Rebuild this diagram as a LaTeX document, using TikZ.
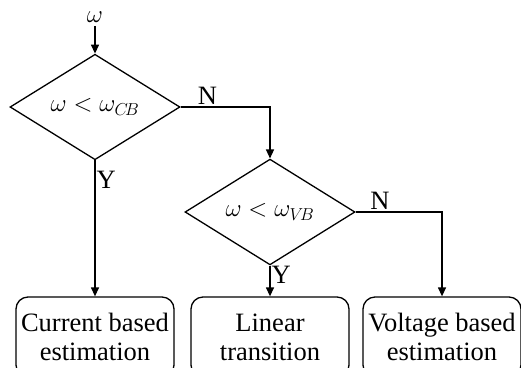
\documentclass[tikz,border=0pt]{standalone}
\usepackage{fontspec}
\setmainfont{Liberation Serif}
\usetikzlibrary{shapes.geometric,arrows.meta}
\begin{document}
\begin{tikzpicture}[x=1pt,y=-1pt,
  every node/.style={font=\fontsize{26.5}{29}\selectfont},
  arr/.style={line width=1.3pt,-{Triangle[length=9pt,width=8pt]}},
  dec/.style={draw,line width=1.3pt,diamond,inner sep=0pt,minimum width=170pt,minimum height=100pt},
  outbox/.style={draw,line width=1.3pt,rounded corners=12pt,minimum width=158pt,minimum height=80pt,align=center,inner sep=0pt}]
\useasboundingbox (0,0) rectangle (521,367);
\clip (0,0) rectangle (521,367);
\node (w) at (95,17) {$\omega$};
\node[dec] (d1) at (95,107) {$\omega<\omega_{C\!B}$};
\node[dec] (d2) at (270,212) {$\omega<\omega_{V\!B}$};
\node[outbox] (b1) at (95,337) {Current based\\estimation};
\node[outbox] (b2) at (270,337) {Linear\\transition};
\node[outbox] (b3) at (442,337) {Voltage based\\estimation};
\draw[arr] (w) -- (d1.north);
\draw[arr] (d1.east) -| node[pos=0.15,above,inner sep=2pt] (n1) {N} (d2.north);
\draw[arr] (d1.south) -- node[pos=0.14,right,inner sep=1pt] (y1) {Y} (b1.north);
\draw[arr] (d2.east) -| node[pos=0.14,above,inner sep=2pt] (n2) {N} (b3.north);
\draw[arr] (d2.south) -- node[pos=0.3,right,inner sep=1pt] (y2) {Y} (b2.north);
\end{tikzpicture}
\end{document}
